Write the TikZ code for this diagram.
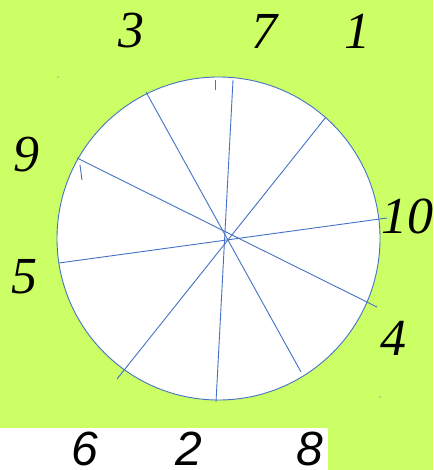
\documentclass[tikz,border=0pt]{standalone}
\usepackage{fontspec}
\setmainfont{Liberation Serif}
\newfontfamily\dialsans{Liberation Sans}
\definecolor{lime}{RGB}{204,255,102}
\definecolor{rayblue}{RGB}{68,114,196}
\tikzset{
  ray/.style={draw=rayblue, line width=0.9pt},
  num/.style={font=\fontsize{52}{52}\selectfont\itshape, inner sep=0pt},
  numsans/.style={font=\fontsize{48}{48}\dialsans\itshape, inner sep=0pt}
}

\begin{document}
\begin{tikzpicture}[x=1pt,y=-1pt]
            \useasboundingbox (0,0) rectangle (433,470);
            \fill[lime] (0,0) rectangle (433,470);
            \fill[white] (0,428) rectangle (328,470);
            \coordinate (O) at (218.5,238.5);
            \draw[ray, fill=white] (O) circle (161.5pt);
            % chord ends
            \coordinate (A1) at (233,80);
            \coordinate (A2) at (216,402);
            \coordinate (B1) at (326,117);
            \coordinate (B2) at (117,379);
            \coordinate (C1) at (77,158);
            \coordinate (C2) at (377,307);
            \coordinate (D1) at (59,263);
            \coordinate (D2) at (387,218);
            \coordinate (E1) at (146,92);
            \coordinate (E2) at (301,372);
            \draw[ray] (A1) -- (A2);
            \draw[ray] (B1) -- (B2);
            \draw[ray] (C1) -- (C2);
            \draw[ray] (D1) -- (D2);
            \draw[ray] (E1) -- (E2);
            % small ticks
            \coordinate (T1) at (215,80);
            \coordinate (T2) at (215,90);
            \coordinate (T3) at (80,165);
            \coordinate (T4) at (82,180);
            \draw[ray] (T1) -- (T2);
            \draw[ray] (T3) -- (T4);
            \fill[gray!70] (58,77) circle (0.8pt);
            \fill[gray!70] (380,397) circle (0.8pt);
            % labels
            \node[num] (n3) at (131,31) {3};
            \node[num] (n7) at (264,31) {7};
            \node[num] (n1) at (357,31) {1};
            \node[num] (n9) at (26,155) {9};
            \node[num] (n5) at (25,277) {5};
            \node[num] (n10) at (407,216) {10};
            \node[num] (n4) at (393,338) {4};
            \node[numsans] (n6) at (85,449) {6};
            \node[numsans] (n2) at (189,449) {2};
            \node[numsans] (n8) at (310,449) {8};
        \end{tikzpicture}
\end{document}
